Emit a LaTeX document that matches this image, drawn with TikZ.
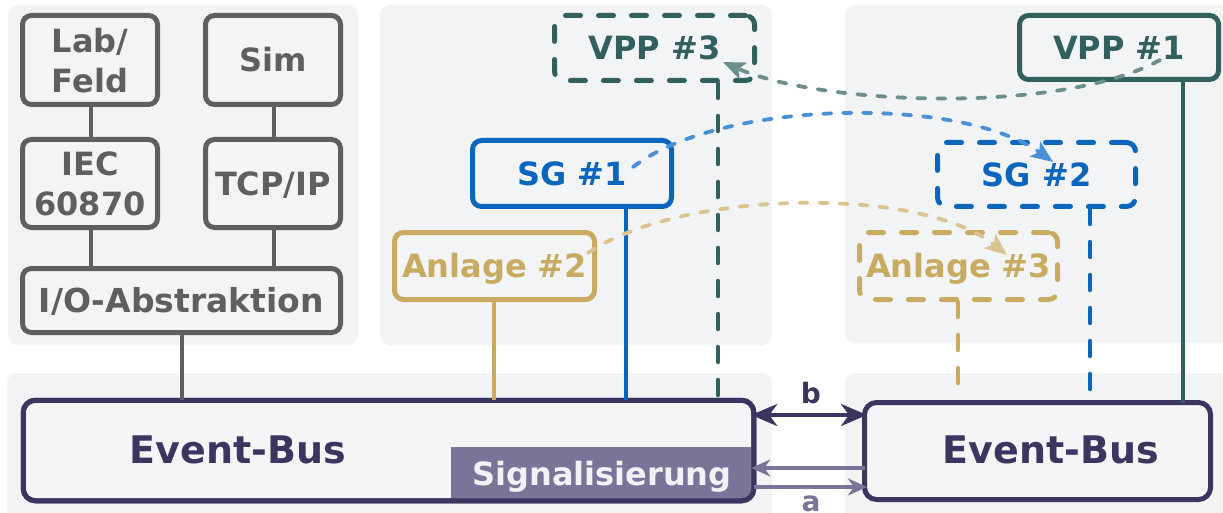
\documentclass[tikz,border=0pt]{standalone}
\usepackage{fontspec}
\setmainfont{DejaVu Sans}
\usetikzlibrary{arrows.meta}
\definecolor{panelbg}{HTML}{F2F3F5}
\definecolor{boxfill}{HTML}{F3F4F6}
\definecolor{busfill}{HTML}{F5F5F8}
\definecolor{grayc}{HTML}{5F5F5F}
\definecolor{tealc}{HTML}{32605F}
\definecolor{teall}{HTML}{6B8F8D}
\definecolor{bluec}{HTML}{0A66BC}
\definecolor{bluel}{HTML}{4A90D6}
\definecolor{goldc}{HTML}{C8AA60}
\definecolor{goldl}{HTML}{DAC48F}
\definecolor{busc}{HTML}{3B355F}
\definecolor{sigc}{HTML}{7A7498}
\definecolor{sigtext}{HTML}{F2F2F6}
\begin{document}
\begin{tikzpicture}[x=1pt,y=-1pt,
  panel/.style={fill=panelbg, rounded corners=10pt},
  graybox/.style={draw=grayc, line width=5pt, fill=boxfill, rounded corners=9pt, text=grayc,
    font=\fontsize{32}{40}\selectfont\bfseries, align=center, inner sep=0pt, text depth=0pt},
  cbox/.style={line width=5pt, fill=boxfill, rounded corners=9pt,
    font=\fontsize{32}{38}\selectfont\bfseries, inner sep=0pt, text height=23.3pt, text depth=0pt},
  dashbox/.style={line cap=round, dash pattern=on 15pt off 18pt},
  grayline/.style={grayc, line width=4.5pt},
  cline/.style={line width=4.2pt},
  dline/.style={line width=4.5pt, line cap=round, dash pattern=on 15pt off 18pt},
  curve/.style={line width=3.8pt, line cap=round, dash pattern=on 8.2pt off 11.8pt,
    -{Stealth[length=22pt,width=18pt,inset=5pt]}},
  bus/.style={draw=busc, line width=5pt, fill=busfill, rounded corners=12pt, inner sep=0pt, outer sep=0pt},
  bustext/.style={text=busc, font=\fontsize{38}{44}\selectfont\bfseries, inner sep=0pt, text height=27.7pt, text depth=0pt},
  lbl/.style={font=\fontsize{28}{32}\selectfont\bfseries, inner sep=0pt, anchor=base}
]
\useasboundingbox (0,0) rectangle (1223,513);
% panels
\fill[panel] (8,5) rectangle (358,345);
\fill[panel] (380,5) rectangle (772,345);
\fill[panel] (845,5) rectangle (1240,343);
\fill[panel] (7,373) rectangle (772,530);
\fill[panel] (845,373) rectangle (1240,530);

% x coordinates
\coordinate (x91) at (91,0);
\coordinate (x274) at (274,0);
\coordinate (x182) at (182,0);
\coordinate (x494) at (494,0);
\coordinate (x626) at (626,0);
\coordinate (x718) at (718,0);
\coordinate (x958) at (958,0);
\coordinate (x1090) at (1090,0);
\coordinate (x1183) at (1183,0);
\coordinate (ya3) at (0,387);
\coordinate (ys2) at (0,392);
\coordinate (yb) at (0,415);
\coordinate (yau) at (0,468);
\coordinate (yal) at (0,487);

% gray nodes
\node[graybox, minimum width=135pt, minimum height=89pt] (lab) at (90,60) {Lab/\\Feld};
\node[graybox, minimum width=135pt, minimum height=89pt, text height=23.3pt] (sim) at (273,60) {Sim};
\node[graybox, minimum width=135pt, minimum height=88pt] (iec) at (90,183.5) {IEC\\60870};
\node[graybox, minimum width=135pt, minimum height=88pt, text height=23.3pt] (tcp) at (273,183.5) {TCP/IP};
\node[graybox, minimum width=318pt, minimum height=64pt, text height=24pt,
  font=\fontsize{33}{40}\selectfont\bfseries] (io) at (181.5,300.5) {I/O-Abstraktion};

\draw[grayline] (lab.south -| x91) -- (iec.north -| x91);
\draw[grayline] (sim.south -| x274) -- (tcp.north -| x274);
\draw[grayline] (iec.south -| x91) -- (io.north -| x91);
\draw[grayline] (tcp.south -| x274) -- (io.north -| x274);

% buses
\node[bus, minimum width=730.5pt, minimum height=100.5pt] (busL) at (388.5,450.5) {};
\node[bus, minimum width=346pt, minimum height=97pt] (busR) at (1037.5,451) {};
\begin{scope}
  \clip[rounded corners=12pt] (busL.north west) rectangle (busL.south east);
  \fill[sigc] (451,447) rectangle (770,520);
\end{scope}
\draw[busc, line width=5pt, rounded corners=12pt] (busL.north west) rectangle (busL.south east);
\node[bustext] (busLt) at (238,450) {Event-Bus};
\node[bustext] (busRt) at (1051,450) {Event-Bus};
\node[text=sigtext, font=\fontsize{32}{36}\selectfont\bfseries, inner sep=0pt, anchor=base] (sig) at (602,485) {Signalisierung};

\draw[grayline] (io.south -| x182) -- (busL.north -| x182);

% colored nodes
\node[cbox, draw=tealc, text=tealc, dashbox, minimum width=200pt, minimum height=65pt] (vpp3) at (654.5,48) {VPP \#3};
\node[cbox, draw=bluec, text=bluec, minimum width=199pt, minimum height=66pt] (sg1) at (572,173.5) {SG \#1};
\node[cbox, draw=goldc, text=goldc, minimum width=200pt, minimum height=67pt] (anl2) at (494.5,266) {Anlage \#2};
\node[cbox, draw=tealc, text=tealc, minimum width=199pt, minimum height=64pt] (vpp1) at (1119,47.5) {VPP \#1};
\node[cbox, draw=bluec, text=bluec, dashbox, minimum width=198pt, minimum height=64pt] (sg2) at (1036.5,174.5) {SG \#2};
\node[cbox, draw=goldc, text=goldc, dashbox, minimum width=198pt, minimum height=67pt] (anl3) at (958.5,266) {Anlage \#3};

% vertical connectors
\draw[cline, goldc] (anl2.south -| x494) -- (busL.north -| x494);
\draw[cline, bluec] (sg1.south -| x626) -- (busL.north -| x626);
\draw[dline, tealc] (vpp3.south -| x718) -- (busL.north -| x718);
\draw[cline, tealc] (vpp1.south -| x1183) -- (busR.north -| x1183);
\draw[dline, goldc] (anl3.south -| x958) -- (ya3 -| x958);
\draw[dline, bluec] (sg2.south -| x1090) -- (ys2 -| x1090);

% curved arrows
\coordinate (ts) at (1160,60);
\coordinate (te) at (723,62);
\coordinate (bs) at (633,167);
\coordinate (be) at (1053,162);
\coordinate (gs) at (588,253);
\coordinate (ge) at (1007,255);
\draw[curve, teall] (ts) .. controls (1060,115) and (820,105) .. (te);
\draw[curve, bluel] (bs) .. controls (720,100) and (960,95) .. (be);
\draw[curve, goldl] (gs) .. controls (680,190) and (920,185) .. (ge);

% bus links
\draw[busc, line width=4pt, shorten <=-2.5pt, shorten >=-2.5pt,
  {Stealth[length=26pt,width=22pt,inset=8pt]}-{Stealth[length=26pt,width=22pt,inset=8pt]}]
  (busL.east |- yb) -- (busR.west |- yb);
\draw[sigc, line width=3.2pt, shorten >=-2.5pt, -{Stealth[length=19pt,width=17pt,inset=6pt]}]
  (busR.west |- yau) -- (busL.east |- yau);
\draw[sigc, line width=3.2pt, shorten >=-2.5pt, -{Stealth[length=19pt,width=17pt,inset=6pt]}]
  (busL.east |- yal) -- (busR.west |- yal);
\node[lbl, text=busc] (lb) at (811,403) {b};
\node[lbl, text=sigc] (la) at (811,511) {a};
\end{tikzpicture}
\end{document}
